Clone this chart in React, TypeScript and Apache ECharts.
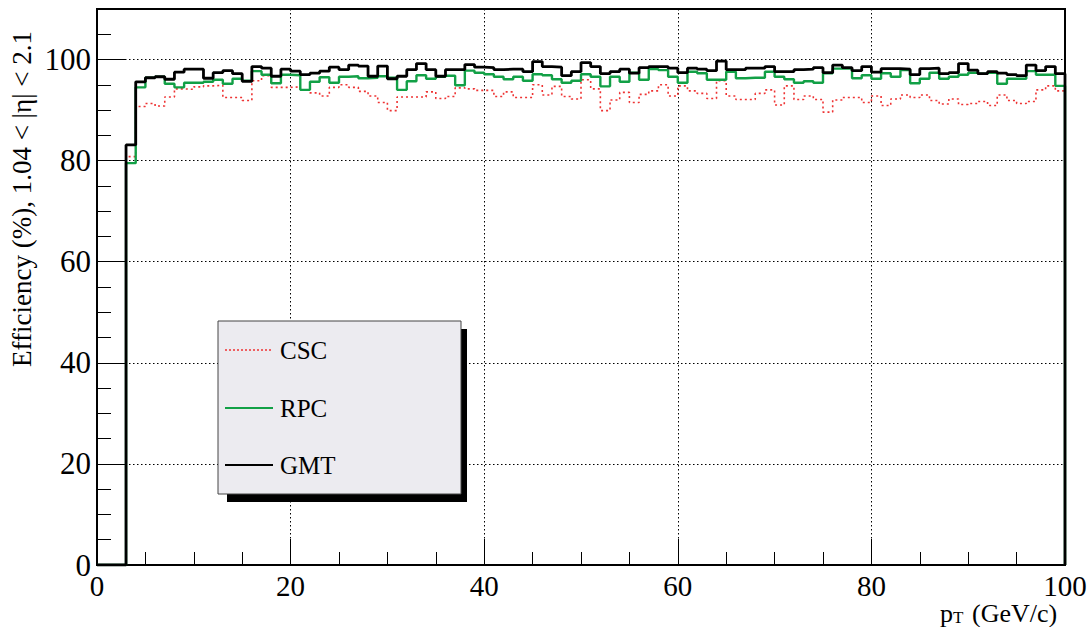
import { useEffect, useRef } from "react";
import * as echarts from "echarts";

// Efficiency per 1 GeV/c bin of p_T, bins 0..99 (percent)
const binEdges = [0, 1, 2, 3, 4, 5, 6, 7, 8, 9, 10, 11, 12, 13, 14, 15, 16, 17, 18, 19, 20, 21, 22, 23, 24, 25, 26, 27, 28, 29, 30, 31, 32, 33, 34, 35, 36, 37, 38, 39, 40, 41, 42, 43, 44, 45, 46, 47, 48, 49, 50, 51, 52, 53, 54, 55, 56, 57, 58, 59, 60, 61, 62, 63, 64, 65, 66, 67, 68, 69, 70, 71, 72, 73, 74, 75, 76, 77, 78, 79, 80, 81, 82, 83, 84, 85, 86, 87, 88, 89, 90, 91, 92, 93, 94, 95, 96, 97, 98, 99, 100];

const csc = [
  0, 0, 0, 80.8, 90.7, 91.3, 90.8, 92.6, 94.2, 94.1,
  94.6, 94.8, 94.9, 92.5, 92.5, 91.9, 95.8, 96.8, 94.5, 94.5,
  94.6, 94.0, 93.4, 92.8, 94.5, 95.0, 94.5, 93.7, 92.8, 91.5,
  89.9, 92.6, 92.6, 92.6, 93.6, 92.3, 92.7, 94.4, 94.2, 93.9,
  93.9, 92.7, 93.6, 92.5, 92.5, 95.0, 93.0, 94.7, 92.7, 92.2,
  96.0, 94.2, 89.9, 92.0, 93.5, 91.5, 93.1, 93.8, 95.0, 92.8,
  94.8, 93.8, 93.3, 92.3, 95.8, 92.8, 92.1, 92.1, 93.3, 94.0,
  91.0, 94.8, 92.1, 92.8, 92.1, 89.6, 92.0, 92.5, 92.5, 91.5,
  92.8, 90.9, 92.2, 93.0, 92.5, 93.0, 91.9, 91.2, 92.2, 91.1,
  91.3, 91.7, 90.9, 93.0, 91.9, 91.3, 91.7, 94.0, 94.8, 93.8,
];

const rpc = [
  0, 0, 0, 79.5, 94.5, 96.4, 96.6, 95.2, 94.5, 95.4,
  95.4, 95.6, 96.0, 95.2, 96.2, 95.8, 97.7, 97.0, 95.3, 97.0,
  96.9, 94.0, 95.6, 96.5, 95.4, 96.6, 96.7, 96.3, 96.4, 96.7,
  96.4, 94.0, 95.7, 96.9, 96.2, 96.6, 96.8, 94.9, 97.8, 97.4,
  97.1, 96.6, 96.1, 96.6, 95.8, 97.1, 96.9, 96.1, 95.4, 95.8,
  97.1, 96.6, 94.7, 96.6, 95.6, 97.4, 96.0, 98.1, 97.9, 96.6,
  95.4, 97.6, 97.3, 96.0, 96.0, 97.6, 96.3, 96.4, 96.4, 97.6,
  96.6, 96.1, 95.4, 95.7, 95.4, 97.3, 98.2, 98.2, 96.3, 96.9,
  96.2, 97.3, 96.6, 97.9, 95.3, 96.2, 97.4, 96.2, 96.6, 97.0,
  97.4, 97.2, 97.4, 95.2, 96.2, 96.2, 97.7, 97.0, 97.0, 94.8,
];

const gmt = [
  0, 0, 0, 83.1, 95.6, 96.4, 96.6, 96.1, 97.5, 98.1,
  98.1, 96.3, 97.4, 97.8, 97.2, 95.7, 98.6, 98.3, 96.7, 98.1,
  97.7, 97.0, 97.3, 97.7, 98.5, 98.0, 98.9, 98.7, 96.7, 98.7,
  96.2, 96.7, 98.0, 99.2, 98.0, 96.7, 98.0, 98.0, 99.0, 98.5,
  98.4, 98.0, 98.1, 98.1, 97.6, 99.6, 98.6, 98.5, 96.8, 97.6,
  99.4, 98.6, 97.2, 97.6, 98.1, 97.3, 98.4, 98.6, 98.6, 98.3,
  97.4, 98.3, 98.1, 97.8, 99.7, 98.0, 98.0, 98.3, 98.3, 98.6,
  97.6, 97.6, 98.0, 98.1, 98.4, 97.4, 98.9, 98.4, 97.8, 98.6,
  97.5, 98.2, 98.2, 98.1, 97.0, 98.2, 98.3, 97.2, 97.4, 99.2,
  97.9, 97.2, 97.6, 97.3, 97.0, 96.8, 98.9, 97.8, 98.6, 97.2,
];

const seriesNames = ["CSC", "RPC", "GMT"];
const xTickValues = [0, 20, 40, 60, 80, 100];
const yTickValues = [0, 20, 40, 60, 80, 100];

const SERIF = "'Liberation Serif', 'Times New Roman', serif";

const COLORS = { CSC: "#ee3333", RPC: "#12a046", GMT: "#000000" };
const DASH = { CSC: [2, 3], RPC: "solid", GMT: "solid" };
const WIDTH = { CSC: 1.6, RPC: 2.4, GMT: 2.8 };

// Histogram outline: each bin's level from its low edge, closing down to zero at the last edge.
function outline(values: number[]) {
  const pts: [number, number][] = values.map((v, i) => [binEdges[i], v]);
  const last = binEdges[values.length];
  pts.push([last, values[values.length - 1]]);
  pts.push([last, 0]);
  return pts;
}

// Legend box with a solid drop shadow
function legendGraphics() {
  const box = { x: 218, y: 321, w: 243, h: 173 };
  const rowY = [350, 408, 465];
  const els: any[] = [
    { type: "rect", z: 20, shape: { x: box.x + 9, y: box.y + 8, width: box.w - 3, height: box.h }, style: { fill: "#000" } },
    {
      type: "rect",
      z: 21,
      shape: { x: box.x, y: box.y, width: box.w, height: box.h },
      style: { fill: "#ecebf0", stroke: "#444", lineWidth: 1 },
    },
  ];
  seriesNames.forEach((name, i) => {
    const key = name as keyof typeof COLORS;
    els.push({
      type: "line",
      z: 22,
      shape: { x1: 225, y1: rowY[i], x2: 273, y2: rowY[i] },
      style: { stroke: COLORS[key], lineWidth: key === "CSC" ? 1.6 : 2, lineDash: key === "CSC" ? [2, 2] : null },
    });
    els.push({
      type: "text",
      z: 22,
      x: 280,
      y: rowY[i],
      style: { text: name, fill: "#000", font: `25px ${SERIF}`, align: "left", verticalAlign: "middle" },
    });
  });
  return els;
}

export default function App() {
  const ref = useRef<HTMLDivElement>(null);

  useEffect(() => {
    if (!ref.current) return;
    const chart = echarts.init(ref.current, undefined, { renderer: "svg" });

    const baseX = {
      type: "value" as const,
      min: xTickValues[0],
      max: xTickValues[xTickValues.length - 1],
      gridIndex: 0,
    };
    const baseY = { type: "value" as const, min: 0, max: 110, gridIndex: 0 };

    chart.setOption({
      animation: false,
      backgroundColor: "#ffffff",
      grid: {
        left: 97,
        right: 27,
        top: 9,
        bottom: 62,
        show: true,
        borderColor: "#000",
        borderWidth: 2,
        backgroundColor: "transparent",
      },
      xAxis: [
        {
          ...baseX,
          interval: 20,
          axisLine: { show: true, onZero: false, lineStyle: { color: "#000", width: 2 } },
          axisTick: { show: true, inside: true, length: 26, lineStyle: { color: "#000", width: 1 } },
          axisLabel: {
            color: "#000",
            fontFamily: SERIF,
            fontSize: 29,
            margin: 6,
          },
          splitLine: { show: true, lineStyle: { color: "#000", type: [1.5, 2.5], width: 1 } },
        },
        {
          ...baseX,
          interval: 5,
          position: "bottom",
          axisLine: { show: false },
          axisTick: { show: true, inside: true, length: 13, lineStyle: { color: "#000", width: 1 } },
          axisLabel: { show: false },
          splitLine: { show: false },
        },
      ],
      yAxis: [
        {
          ...baseY,
          interval: 20,
          axisLine: { show: true, onZero: false, lineStyle: { color: "#000", width: 2 } },
          axisTick: { show: true, inside: true, length: 28, lineStyle: { color: "#000", width: 1 } },
          axisLabel: {
            color: "#000",
            fontFamily: SERIF,
            fontSize: 31,
            margin: 6,
            formatter: (v: number) => (yTickValues.includes(v) ? String(v) : ""),
          },
          splitLine: { show: true, lineStyle: { color: "#000", type: [1.5, 2.5], width: 1 } },
        },
        {
          ...baseY,
          interval: 5,
          position: "left",
          axisLine: { show: false },
          axisTick: { show: true, inside: true, length: 14, lineStyle: { color: "#000", width: 1 } },
          axisLabel: { show: false },
          splitLine: { show: false },
        },
      ],
      graphic: [
        ...legendGraphics(),
        {
          type: "text",
          x: 22,
          y: 199,
          rotation: Math.PI / 2,
          style: {
            text: "Efficiency (%), 1.04 < |\u03b7| < 2.1",
            fill: "#000",
            font: `27px ${SERIF}`,
            align: "center",
            verticalAlign: "middle",
          },
        },
        {
          type: "text",
          x: 940,
          y: 613,
          style: { text: "p", fill: "#000", font: `26px ${SERIF}`, align: "left", verticalAlign: "middle" },
        },
        {
          type: "text",
          x: 953,
          y: 617,
          style: { text: "T", fill: "#000", font: `17px ${SERIF}`, align: "left", verticalAlign: "middle" },
        },
        {
          type: "text",
          x: 972,
          y: 613,
          style: { text: "(GeV/c)", fill: "#000", font: `26px ${SERIF}`, align: "left", verticalAlign: "middle" },
        },
      ],
      series: seriesNames.map((name, i) => {
        const key = name as keyof typeof COLORS;
        const values = [csc, rpc, gmt][i];
        return {
          name,
          type: "line",
          step: "end",
          xAxisIndex: 0,
          yAxisIndex: 0,
          symbol: "none",
          data: outline(values),
          lineStyle: { color: COLORS[key], width: WIDTH[key], type: DASH[key] },
          itemStyle: { color: COLORS[key] },
          z: 2 + i,
        };
      }),
    });

    return () => chart.dispose();
  }, []);

  return (
    <div
      ref={ref}
      style={{ position: "fixed", left: 0, top: 0, width: 1092, height: 627, background: "#fff" }}
    />
  );
}
